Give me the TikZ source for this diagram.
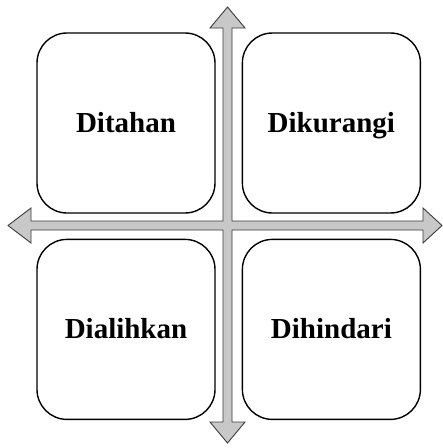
\documentclass[tikz,border=0pt]{standalone}
\usepackage{fontspec}
\setmainfont{Liberation Serif}
\usepackage{xcolor}
\usetikzlibrary{positioning, calc}
\definecolor{crossfill}{RGB}{200,200,200}
\definecolor{crossline}{RGB}{60,60,60}

\begin{document}
\begin{tikzpicture}[
  x=1pt, y=-1pt,
  every node/.style={font=\bfseries\fontsize{29}{34}\selectfont},
  quad/.style={draw, line width=1.4pt, fill=white, rounded corners=30pt,
               minimum width=178pt, minimum height=180pt, inner sep=0pt,
               text height=19pt, text depth=0pt},
  crossarrow/.style={draw=crossline, fill=crossfill, line width=0.9pt, line join=miter},
]
\useasboundingbox (0,0) rectangle (443,448);
\coordinate (c) at (227.5,225.5);
% four-way arrow
\draw[crossarrow, shift={(c)}]
  (0,-218.5) -- (17.5,-197.5) -- (4.5,-197.5) -- (4.5,-4.5)
  -- (195.5,-4.5) -- (195.5,-17.5) -- (214.5,0) -- (195.5,17.5) -- (195.5,4.5)
  -- (4.5,4.5) -- (4.5,196.5) -- (17.5,196.5) -- (0,217.5) -- (-17.5,196.5)
  -- (-4.5,196.5) -- (-4.5,4.5) -- (-196.5,4.5) -- (-196.5,17.5) -- (-219.5,0)
  -- (-196.5,-17.5) -- (-196.5,-4.5) -- (-4.5,-4.5) -- (-4.5,-197.5)
  -- (-17.5,-197.5) -- cycle;
\node[quad] (ditahan) at (126,123) {Ditahan};
\node[quad, right=26pt of ditahan] (dikurangi) {Dikurangi};
\node[quad, below=25pt of ditahan] (dialihkan) {Dialihkan};
\node[quad, below=25pt of dikurangi] (dihindari) {Dihindari};
\end{tikzpicture}
\end{document}
